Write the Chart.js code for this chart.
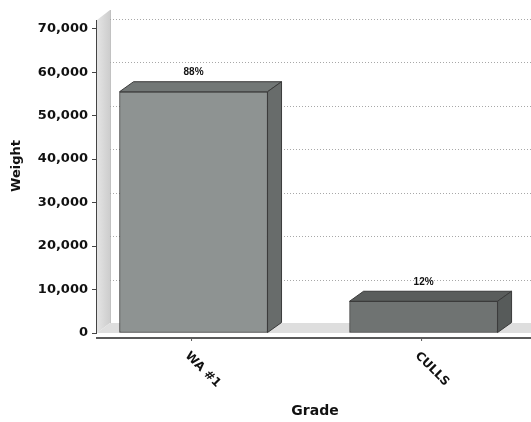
<!DOCTYPE html>
<html>
<head>
<meta charset="utf-8">
<script src="https://cdn.jsdelivr.net/npm/chart.js@4.4.1/dist/chart.umd.min.js"></script>
<style>
  html, body { margin: 0; padding: 0; background: #fff; }
  #wrap { width: 531px; height: 422px; }
</style>
</head>
<body>
<div id="wrap"><canvas id="gradeChart"></canvas></div>
<script>
// data
const grades = ['WA #1', 'CULLS'];
const weights = [55500, 7300];
const yTicks = [0, 10000, 20000, 30000, 40000, 50000, 60000, 70000];

// bar face colours (front / top / right side)
const frontColors = ['#8e9392', '#6f7372'];
const topColors = ['#727776', '#5a5d5c'];
const sideColors = ['#686c6b', '#575b5a'];

// 3d depth offset, like the old jfreechart look
const DX = 14, DY = -10;
const FONT = '"DejaVu Sans", Verdana, sans-serif';

const total = weights.reduce((a, b) => a + b, 0);
const pctLabels = weights.map(w => Math.round(w / total * 100) + '%');

const threeD = {
  id: 'threeD',
  beforeDatasetsDraw(chart) {
    const {ctx, chartArea: a, scales: {y}} = chart;
    ctx.save();
    // left wall
    ctx.beginPath();
    ctx.moveTo(a.left + 1, a.bottom);
    ctx.lineTo(a.left + 1, a.top);
    ctx.lineTo(a.left + DX, a.top + DY);
    ctx.lineTo(a.left + DX, a.bottom + DY);
    ctx.closePath();
    const g = ctx.createLinearGradient(a.left, 0, a.left + DX, 0);
    g.addColorStop(0, '#e6e6e6');
    g.addColorStop(1, '#cdcdcd');
    ctx.fillStyle = g;
    ctx.fill();
    ctx.strokeStyle = '#c2c2c2';
    ctx.lineWidth = 1;
    ctx.beginPath();
    ctx.moveTo(a.left + DX + 0.5, a.top + DY);
    ctx.lineTo(a.left + DX + 0.5, a.bottom + DY);
    ctx.stroke();
    // floor
    ctx.beginPath();
    ctx.moveTo(a.left + 1, a.bottom);
    ctx.lineTo(a.left + DX, a.bottom + DY);
    ctx.lineTo(a.right, a.bottom + DY);
    ctx.lineTo(a.right, a.bottom);
    ctx.closePath();
    ctx.fillStyle = '#dedede';
    ctx.fill();
    // dotted grid lines on the back wall
    ctx.setLineDash([1, 2]);
    ctx.strokeStyle = '#a8a8a8';
    yTicks.forEach(v => {
      if (v === 0) return;
      const py = Math.round(y.getPixelForValue(v) + DY) + 0.5;
      ctx.beginPath();
      ctx.moveTo(a.left + DX, py);
      ctx.lineTo(a.right, py);
      ctx.stroke();
    });
    ctx.restore();
  },
  afterDatasetsDraw(chart) {
    const {ctx} = chart;
    const meta = chart.getDatasetMeta(0);
    ctx.save();
    ctx.strokeStyle = '#3a3a3a';
    ctx.lineWidth = 1;
    meta.data.forEach((bar, i) => {
      const {x, y, base, width} = bar.getProps(['x', 'y', 'base', 'width'], true);
      const l = x - width / 2, r = x + width / 2;
      // top face
      ctx.beginPath();
      ctx.moveTo(l, y);
      ctx.lineTo(l + DX, y + DY);
      ctx.lineTo(r + DX, y + DY);
      ctx.lineTo(r, y);
      ctx.closePath();
      ctx.fillStyle = topColors[i];
      ctx.fill();
      ctx.stroke();
      // right face
      ctx.beginPath();
      ctx.moveTo(r, y);
      ctx.lineTo(r + DX, y + DY);
      ctx.lineTo(r + DX, base + DY);
      ctx.lineTo(r, base);
      ctx.closePath();
      ctx.fillStyle = sideColors[i];
      ctx.fill();
      ctx.stroke();
      // percent label
      ctx.fillStyle = '#111';
      ctx.font = 'bold 10px "Liberation Sans", Arial, sans-serif';
      ctx.textAlign = 'center';
      ctx.textBaseline = 'middle';
      ctx.fillText(pctLabels[i], x, y - 19);
    });
    ctx.restore();
  },
  afterDraw(chart) {
    const {ctx, chartArea: a, scales: {x}} = chart;
    ctx.save();
    // domain axis line
    const axisY = a.bottom + 5;
    ctx.strokeStyle = '#5a5a5a';
    ctx.lineWidth = 2;
    ctx.beginPath();
    ctx.moveTo(a.left, axisY);
    ctx.lineTo(a.right, axisY);
    ctx.stroke();
    // category ticks + rotated labels
    ctx.fillStyle = '#111';
    ctx.font = 'bold 12px ' + FONT;
    ctx.textAlign = 'left';
    ctx.textBaseline = 'middle';
    grades.forEach((g, i) => {
      const tx = x.getPixelForValue(i) - 2;
      ctx.lineWidth = 1;
      ctx.beginPath();
      ctx.moveTo(tx, axisY);
      ctx.lineTo(tx, axisY + 3);
      ctx.stroke();
      ctx.save();
      ctx.translate(tx - 4.5, axisY + 16);
      ctx.rotate(Math.PI / 4);
      ctx.fillText(g, 0, 0);
      ctx.restore();
    });
    // axis titles
    ctx.textAlign = 'center';
    ctx.font = 'bold 14px ' + FONT;
    ctx.fillText('Grade', 315, 411);
    ctx.save();
    ctx.translate(17, 166);
    ctx.rotate(-Math.PI / 2);
    ctx.font = 'bold 13px ' + FONT;
    ctx.fillText('Weight', 0, 0);
    ctx.restore();
    ctx.restore();
  }
};

const config = {
  type: 'bar',
  data: {
    datasets: [{
      label: 'Weight',
      data: grades.map((g, i) => ({x: i, y: weights[i]})),
      backgroundColor: frontColors,
      borderColor: '#3a3a3a',
      borderWidth: 1,
      borderSkipped: false,
      barThickness: 148
    }]
  },
  options: {
    responsive: true,
    maintainAspectRatio: false,
    animation: false,
    layout: {padding: {top: 20, right: 0, bottom: 89, left: 0}},
    plugins: {legend: {display: false}, tooltip: {enabled: false}},
    scales: {
      x: {
        type: 'linear',
        display: false,
        offset: false,
        min: -0.424,
        max: 1.467
      },
      y: {
        min: 0,
        max: 72000,
        afterFit(scale) { scale.width = 96; },
        afterBuildTicks(scale) {
          scale.ticks = yTicks.map(v => ({value: v}));
        },
        ticks: {
          color: '#111',
          padding: 4,
          font: {family: FONT, size: 13, weight: 'bold'},
          callback: v => v.toLocaleString('en-US')
        },
        grid: {drawOnChartArea: false, drawTicks: true, tickLength: 4, color: '#444'},
        border: {display: true, color: '#444', width: 1}
      }
    }
  },
  plugins: [threeD]
};

new Chart(document.getElementById('gradeChart'), config);
</script>
</body>
</html>
